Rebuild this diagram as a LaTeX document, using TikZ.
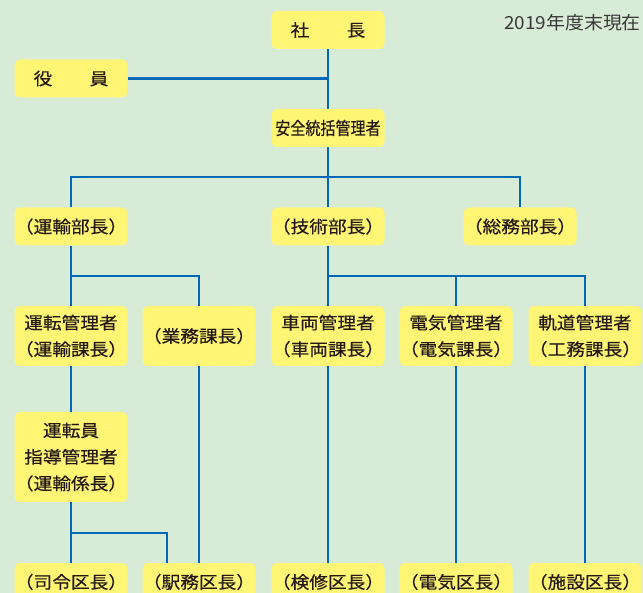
\documentclass[tikz,border=0pt]{standalone}
\usepackage{fontspec}
\setmainfont{Noto Sans CJK JP}[FakeStretch=1.1,FakeBold=0.4]
\newfontfamily\safefont{Noto Sans CJK JP}[FakeStretch=0.86,FakeBold=0.4]
\newfontfamily\datefont{Noto Sans CJK JP}[FakeStretch=1.05]
\definecolor{bg}{HTML}{D8EBD6}
\definecolor{bx}{HTML}{FFF575}
\definecolor{ln}{HTML}{0068B7}
\definecolor{tx}{HTML}{231815}
\begin{document}
\begin{tikzpicture}[x=1pt,y=-1pt,
  box/.style={fill=bx, rounded corners=6pt, minimum width=113pt, text width=113pt,
    align=center, inner sep=0pt, text=tx, font=\fontsize{17}{26.5}\selectfont},
  one/.style={box, minimum height=38pt},
  two/.style={box, minimum height=60pt},
  con/.style={draw=ln, line width=2.8pt}]
\useasboundingbox (0,0) rectangle (643,593);
\fill[bg] (0,0) rectangle (643,593);
\begin{scope}
\clip (0,0) rectangle (643,593);
% nodes
\node[one] (pres) at (328,30) {社\hspace{2.2em}長};
\node[one] (exec) at (71,78.5) {役\hspace{2.2em}員};
\node[one, font=\safefont\fontsize{17.5}{20}\selectfont] (safe) at (328,128) {安全統括管理者};
\node[one] (unyu) at (71,226.5) {（運輸部長）};
\node[one] (gijutsu) at (328,226.5) {（技術部長）};
\node[one] (somu) at (520,226.5) {（総務部長）};
\node[two] (unten) at (71,336) {運転管理者\\（運輸課長）};
\node[two] (gyomu) at (199,336) {（業務課長）};
\node[two] (sharyo) at (328,336) {車両管理者\\（車両課長）};
\node[two] (denki) at (456,336) {電気管理者\\（電気課長）};
\node[two] (kido) at (585,336) {軌道管理者\\（工務課長）};
\node[box, minimum height=90pt] (untenin) at (71,457) {運転員\\指導管理者\\（運輸係長）};
\node[one] (shirei) at (71,582) {（司令区長）};
\node[one] (ekimu) at (199,582) {（駅務区長）};
\node[one] (kenshu) at (328,582) {（検修区長）};
\node[one] (denkiku) at (456,582) {（電気区長）};
\node[one] (shisetsu) at (585,582) {（施設区長）};
\node[anchor=east, inner sep=0pt, text=black!78, font=\datefont\fontsize{18}{20}\selectfont] (date) at (641,23) {2019年度末現在};
% connectors
\draw[con] (pres.south) -- (safe.north);
\draw[con] (exec.east) -- (exec.east -| pres.south);
\coordinate (j1) at (328,177);
\draw[con] (safe.south) -- (gijutsu.north);
\draw[con] (unyu.north) -- (unyu.north |- j1) -- (somu.north |- j1) -- (somu.north);
\coordinate (j2) at (71,276);
\draw[con] (unyu.south) -- (unten.north);
\draw[con] (j2) -- (j2 -| gyomu.north) -- (gyomu.north);
\draw[con] (gijutsu.south) -- (sharyo.north);
\draw[con] (sharyo.north |- j2) -- (kido.north |- j2) -- (kido.north);
\draw[con] (denki.north |- j2) -- (denki.north);
\draw[con] (unten.south) -- (untenin.north);
\draw[con] (untenin.south) -- (shirei.north);
\coordinate (j3) at (71,533);
\coordinate (ekin) at ([xshift=-32pt]ekimu.north);
\draw[con] (j3) -- (j3 -| ekin) -- (ekin);
\draw[con] (gyomu.south) -- (ekimu.north);
\draw[con] (sharyo.south) -- (kenshu.north);
\draw[con] (denki.south) -- (denkiku.north);
\draw[con] (kido.south) -- (shisetsu.north);
\end{scope}
\end{tikzpicture}
\end{document}
